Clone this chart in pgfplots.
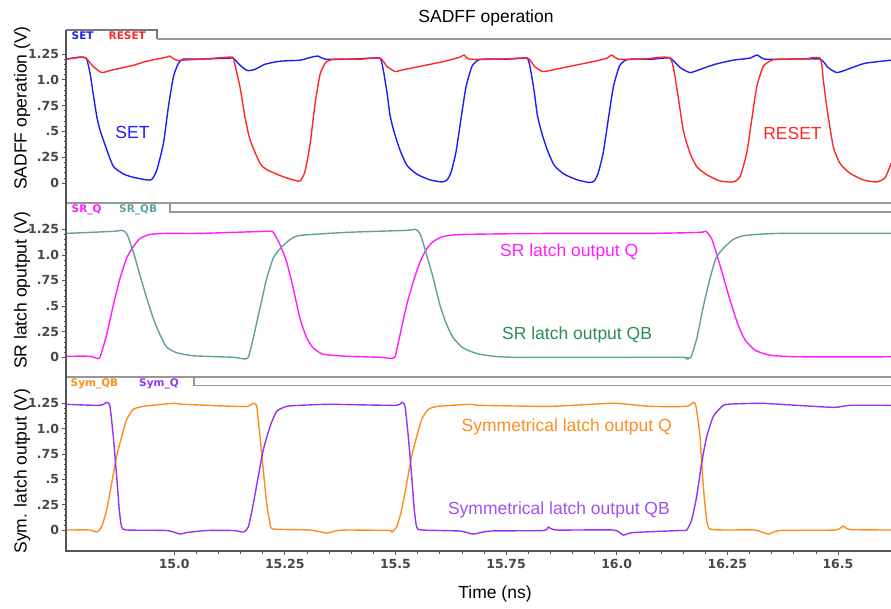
\documentclass[border=0pt]{standalone}
\usepackage{pgfplots}
\pgfplotsset{compat=1.18}
\usepackage{fontspec}
\setmainfont{Liberation Sans}
\newfontfamily\tickfont{DejaVu Sans}

\definecolor{cset}{RGB}{30,30,245}
\definecolor{creset}{RGB}{255,40,40}
\definecolor{csrq}{RGB}{255,30,255}
\definecolor{csrqb}{RGB}{95,160,160}
\definecolor{cgreen}{RGB}{46,139,87}
\definecolor{corange}{RGB}{255,140,30}
\definecolor{cpurple}{RGB}{150,50,245}
\definecolor{cpurpletext}{RGB}{160,80,240}
\definecolor{framegray}{RGB}{150,150,150}
\definecolor{axisdark}{RGB}{85,85,85}

\pgfplotsset{
  panel/.style={
    scale only axis, width=825pt, anchor=south west,
    xmin=14.7555, xmax=16.6199,
    axis line style={draw=none},
    ytick={0,0.25,0.5,0.75,1,1.25},
    yticklabels={0,.25,.5,.75,1.0,1.25},
    minor y tick num=4,
    ytick pos=left, xtick pos=bottom,
    tick align=outside,
    major tick length=4pt, minor tick length=2.5pt,
    tick style={axisdark, line width=0.8pt},
    minor tick style={axisdark, line width=0.6pt},
    tick label style={font=\tickfont\bfseries\fontsize{12.5}{14}\selectfont, text=black!72},
    yticklabel style={xshift=0.5pt},
    every axis plot/.append style={line width=1.4pt, line join=round, smooth, tension=0.35},
  },
}

\begin{document}
\begin{tikzpicture}[x=1pt,y=1pt]
\useasboundingbox (0,0) rectangle (891,608);

% ---------------- Panel 1: SADFF inputs ----------------
\begin{axis}[panel, at={(66pt,405pt)}, height=164pt, ymin=-0.1938, ymax=1.3953,
  xtick=\empty]
\addplot[cset] coordinates {
(14.7555,1.20) (14.7871,1.22)
(14.801,1.21) (14.8055,1.15) (14.810,1.06) (14.8168,0.87) (14.8252,0.64) (14.8326,0.51) (14.8478,0.32) (14.8627,0.16) (14.8853,0.087) (14.9079,0.055) (14.9382,0.03) (14.9495,0.035) (14.9608,0.126) (14.9757,0.385) (14.9870,0.74) (14.9983,1.03) (15.0096,1.16) (15.0209,1.20)
(15.060,1.20) (15.126,1.21) (15.1336,1.21) (15.149,1.14) (15.165,1.09) (15.182,1.10) (15.205,1.15) (15.239,1.18) (15.284,1.19) (15.311,1.22) (15.325,1.23) (15.341,1.20) (15.400,1.20) (15.444,1.21)
(15.465,1.21) (15.4695,1.16) (15.474,1.06) (15.4808,0.88) (15.4876,0.66) (15.4966,0.50) (15.5102,0.32) (15.526,0.17) (15.5486,0.085) (15.578,0.03) (15.6051,0.01) (15.6164,0.03) (15.6255,0.10) (15.6368,0.30) (15.6481,0.62) (15.6594,0.93) (15.6729,1.13) (15.6865,1.19) (15.700,1.20)
(15.750,1.20) (15.790,1.21)
(15.798,1.21) (15.8025,1.16) (15.807,1.06) (15.8138,0.88) (15.8206,0.66) (15.8296,0.50) (15.8432,0.32) (15.859,0.17) (15.8816,0.085) (15.911,0.03) (15.9381,0.005) (15.9494,0.02) (15.9585,0.10) (15.9698,0.30) (15.9811,0.62) (15.9924,0.93) (16.0059,1.13) (16.0195,1.19) (16.033,1.20)
(16.080,1.20) (16.1204,1.21) (16.143,1.12) (16.1656,1.07) (16.1882,1.10) (16.2221,1.15) (16.2628,1.19) (16.3012,1.21) (16.3170,1.24) (16.3351,1.20) (16.400,1.20) (16.4594,1.20) (16.4775,1.12) (16.4977,1.07) (16.5272,1.11) (16.5611,1.16) (16.6199,1.19)
};
\addplot[creset] coordinates {
(14.7555,1.20) (14.7946,1.22) (14.801,1.21) (14.817,1.13) (14.836,1.07) (14.855,1.09) (14.907,1.14) (14.938,1.18) (14.983,1.22) (14.990,1.23) (15.006,1.19) (15.059,1.20) (15.126,1.22)
(15.1336,1.21) (15.1397,1.10) (15.1487,0.93) (15.1600,0.64) (15.1713,0.42) (15.1939,0.19) (15.2090,0.13) (15.2465,0.06) (15.2692,0.03) (15.2843,0.02) (15.2956,0.11) (15.3069,0.37) (15.3182,0.76) (15.3295,1.05) (15.3430,1.17) (15.3634,1.20)
(15.420,1.20) (15.465,1.21) (15.4805,1.13) (15.4988,1.08) (15.510,1.09) (15.567,1.14) (15.612,1.18) (15.6458,1.22) (15.655,1.24) (15.668,1.20) (15.740,1.20) (15.798,1.21) (15.814,1.13) (15.832,1.08) (15.849,1.09) (15.905,1.14) (15.951,1.18) (15.978,1.21) (15.989,1.24) (16.003,1.20) (16.060,1.20)
(16.1204,1.21) (16.1355,0.93) (16.1505,0.51) (16.1656,0.29) (16.1807,0.16) (16.2033,0.08) (16.2334,0.02) (16.2635,0.01) (16.2787,0.06) (16.2938,0.29) (16.3051,0.61) (16.3164,0.93) (16.3313,1.13) (16.3503,1.19) (16.3690,1.20) (16.420,1.20)
(16.4594,1.21) (16.4669,1.00) (16.4746,0.74) (16.4895,0.35) (16.5046,0.19) (16.5272,0.094) (16.5573,0.03) (16.5876,0.01) (16.6063,0.05) (16.6176,0.16) (16.6199,0.19)
};
\end{axis}

% ---------------- Panel 2: SR latch ----------------
\begin{axis}[panel, at={(66pt,231pt)}, height=165pt, ymin=-0.1924, ymax=1.419,
  xtick=\empty]
\addplot[csrq] coordinates {
(14.7555,0.01) (14.8097,0.01) (14.8248,-0.01) (14.8323,0.0) (14.8474,0.22) (14.8624,0.51) (14.8775,0.77) (14.8926,0.97) (14.9076,1.08) (14.9227,1.16) (14.9453,1.20) (14.9830,1.21) (15.0583,1.21) (15.2090,1.23) (15.2240,1.22) (15.2391,1.10) (15.2542,0.93) (15.2692,0.67) (15.2843,0.38) (15.2994,0.19) (15.3144,0.09) (15.3370,0.03) (15.3898,0.01) (15.4651,0.0) (15.4877,-0.01) (15.4990,0.005)
(15.5103,0.22) (15.5254,0.51) (15.5404,0.74) (15.5555,0.93) (15.5706,1.06) (15.5855,1.13) (15.6081,1.18) (15.6533,1.20) (15.8492,1.21) (16.0752,1.21) (16.1882,1.22) (16.2018,1.23) (16.2153,1.15) (16.2334,0.90) (16.2560,0.56) (16.2741,0.32) (16.2900,0.17) (16.3126,0.07) (16.3465,0.02) (16.4143,0.005) (16.6199,0.005)
};
\addplot[csrqb] coordinates {
(14.7555,1.21) (14.8624,1.23) (14.8813,1.24) (14.8926,1.21) (14.9076,1.03) (14.9227,0.80) (14.9378,0.58) (14.9527,0.38) (14.9679,0.22) (14.9830,0.10) (15.0056,0.045) (15.0432,0.015) (15.1336,0.0) (15.1562,-0.015) (15.1675,0.0) (15.1788,0.19) (15.1939,0.48) (15.2090,0.77) (15.2240,0.97) (15.2391,1.06) (15.2617,1.15) (15.2843,1.19) (15.3898,1.22) (15.5254,1.24) (15.5442,1.25) (15.5555,1.21) (15.5706,1.00) (15.5855,0.77) (15.6006,0.51) (15.6157,0.32) (15.6307,0.19) (15.6533,0.09) (15.6910,0.03) (15.7663,0.0)
(16.1430,0.0) (16.1565,-0.015) (16.1676,0.0) (16.1813,0.19) (16.1949,0.48) (16.2108,0.77) (16.2244,0.97) (16.2402,1.06) (16.2628,1.15) (16.2900,1.19) (16.3690,1.21) (16.6199,1.21)
};
\end{axis}

% ---------------- Panel 3: Symmetrical latch ----------------
\begin{axis}[panel, at={(66pt,57pt)}, height=165.5pt, ymin=-0.207, ymax=1.4256,
  xtick={15,15.25,15.5,15.75,16,16.25,16.5},
  xticklabels={15.0,15.25,15.5,15.75,16.0,16.25,16.5},
  minor x tick num=4,
  xticklabel style={yshift=-1pt}]
\addplot[corange] coordinates {
(14.7555,0.0) (14.8097,0.0) (14.8248,-0.02) (14.8361,0.03) (14.8474,0.20) (14.8587,0.46) (14.8700,0.73) (14.8813,0.92) (14.8926,1.09) (14.9076,1.19) (14.9302,1.22) (14.9980,1.25) (15.0206,1.24) (15.1336,1.22) (15.1668,1.22) (15.1788,1.25) (15.1864,1.22) (15.1939,0.92) (15.2014,0.59) (15.2090,0.26) (15.2165,0.07) (15.2240,0.01) (15.3069,0.0) (15.3446,-0.03) (15.3634,-0.01) (15.3898,0.0) (15.4877,-0.005)
(15.4915,-0.02) (15.5028,0.03) (15.5141,0.20) (15.5254,0.46) (15.5367,0.73) (15.5480,0.92) (15.5593,1.09) (15.5742,1.19) (15.5961,1.22) (15.6686,1.24) (15.6912,1.23) (15.8500,1.22) (15.9922,1.25) (16.0752,1.22) (16.1581,1.22) (16.1731,1.26) (16.1792,1.22) (16.1882,0.92) (16.1957,0.43) (16.2033,0.10) (16.2108,0.01) (16.2486,0.0) (16.3126,0.0) (16.3427,-0.04) (16.3690,-0.005) (16.4932,0.0) (16.5121,0.04) (16.5272,0.005) (16.6199,0.0)
};
\addplot[cpurple] coordinates {
(14.7555,1.24) (14.8323,1.23) (14.8474,1.26) (14.8549,1.22) (14.8624,0.92) (14.8700,0.53) (14.8759,0.20) (14.8813,0.03) (14.8926,0.0) (14.9830,-0.005) (15.0131,-0.04) (15.0282,-0.025) (15.0734,-0.005) (15.1336,-0.005) (15.1562,-0.02) (15.1675,0.03) (15.1788,0.26) (15.1900,0.53) (15.2014,0.79) (15.2165,1.02) (15.2316,1.17) (15.2542,1.22) (15.2843,1.23) (15.3521,1.24) (15.4990,1.23)
(15.5141,1.26) (15.5216,1.22) (15.5291,0.92) (15.5367,0.53) (15.5426,0.20) (15.5480,0.03) (15.5593,0.0) (15.6458,-0.01) (15.6759,-0.04) (15.7136,-0.01) (15.8340,-0.005) (15.8454,0.03) (15.8643,0.0) (15.9922,0.0) (16.0148,-0.05) (16.0374,-0.025) (16.1430,-0.005) (16.1581,0.0) (16.1694,0.10) (16.1807,0.33) (16.1920,0.66) (16.2033,0.92) (16.2182,1.12) (16.2334,1.20) (16.2486,1.24) (16.3238,1.25) (16.3690,1.24) (16.4894,1.21) (16.5272,1.23) (16.6199,1.23)
};
\end{axis}

% ---------------- frames and tabs ----------------
\draw[framegray!80!black, line width=1.4pt] (66,578) -- (157,578) -- (157,569);
\draw[framegray, line width=1.2pt] (157,569) -- (891,569);
\draw[framegray, line width=1.4pt] (66,405) -- (891,405);
\draw[framegray, line width=1.2pt] (170,405) -- (170,396) -- (891,396);
\draw[framegray, line width=1.4pt] (66,231) -- (891,231);
\draw[framegray, line width=1.2pt] (194,231) -- (194,222.5) -- (891,222.5);
\draw[axisdark, line width=1.1pt] (66,578) -- (66,57) -- (891,57);

% tab legends
\begin{scope}[every node/.style={anchor=west, inner sep=0pt, font=\tickfont\bfseries\fontsize{10.5}{12}\selectfont}]
\node[text=cset] at (71.5,572) {SET};
\node[text=creset] at (108.5,572) {RESET};
\node[text=csrq] at (71.5,398) {SR\_Q};
\node[text=csrqb] at (119,398) {SR\_QB};
\node[text=corange] at (70.5,224) {Sym\_QB};
\node[text=cpurple] at (139,224) {Sym\_Q};
\end{scope}

% axis labels and title
\begin{scope}[every node/.style={font=\fontsize{17.5}{20}\selectfont, inner sep=0pt}]
\node[rotate=90] at (22,500) {SADFF operation (V)};
\node[rotate=90] at (22,318) {SR latch oputput (V)};
\node[rotate=90] at (22,137) {Sym. latch output (V)};
\node at (486,590.5) {SADFF operation};
\node at (495,14) {Time (ns)};
% annotations
\node[text=cset] at (132.5,476) {SET};
\node[text=creset] at (792.5,475) {RESET};
\node[anchor=west, text=csrq] at (500,356) {SR latch output Q};
\node[anchor=west, text=cgreen] at (502,273) {SR latch output QB};
\node[anchor=east, text=corange] at (672,181) {Symmetrical latch output Q};
\node[anchor=east, text=cpurpletext] at (670,98) {Symmetrical latch output QB};
\end{scope}
\end{tikzpicture}
\end{document}
